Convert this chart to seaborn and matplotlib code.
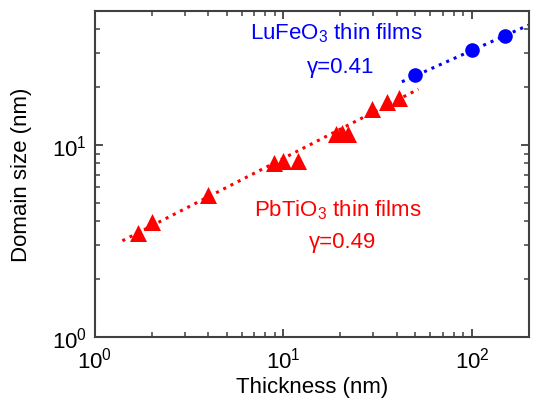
import numpy as np
import pandas as pd
import matplotlib
matplotlib.use("Agg")
import matplotlib.pyplot as plt
import seaborn as sns

# ==============================
# DATI
# ==============================
pto_thickness = [1.7, 2.0, 4.0, 8.9, 10.0, 12.0, 19.0, 20.5, 22.0, 29.5, 35.5, 41.0]
pto_domain = [3.47, 3.97, 5.47, 8.0, 8.2, 8.2, 11.4, 11.5, 11.4, 15.4, 16.7, 17.5]

lfo_thickness = [50, 100, 150]
lfo_domain = [23.1, 31.2, 37.0]

# fit lines (end points)
pto_fit_x = [1.4, 52]
pto_fit_y = [3.16, 19.5]
lfo_fit_x = [42.5, 199]
lfo_fit_y = [21.3, 42.0]

pto_label = "PbTiO$_3$ thin films"
lfo_label = "LuFeO$_3$ thin films"
pto_gamma = "γ=0.49"
lfo_gamma = "γ=0.41"

# ==============================
# STILE
# ==============================
sns.set_style("ticks")
plt.rcParams["font.family"] = ["Liberation Sans", "DejaVu Sans"]
plt.rcParams["mathtext.fontset"] = "custom"
plt.rcParams["mathtext.rm"] = "Liberation Sans"
plt.rcParams["mathtext.it"] = "Liberation Sans:italic"
plt.rcParams["mathtext.default"] = "regular"
plt.rcParams["text.color"] = "black"
plt.rcParams["axes.labelcolor"] = "black"

fig = plt.figure(figsize=(5.39, 4.02), dpi=100)
ax = fig.add_axes([0.176, 0.160, 0.805, 0.811])

# ==============================
# LINEE DI FIT
# ==============================
sns.lineplot(x=pto_fit_x, y=pto_fit_y, ax=ax, color="red",
             linestyle=":", linewidth=2.2, zorder=2)
sns.lineplot(x=lfo_fit_x, y=lfo_fit_y, ax=ax, color="blue",
             linestyle=":", linewidth=2.2, zorder=2)

# ==============================
# PUNTI
# ==============================
sns.scatterplot(x=pto_thickness, y=pto_domain, ax=ax, marker="^",
                color="red", s=150, edgecolor="red", linewidth=0, zorder=3)
sns.scatterplot(x=lfo_thickness, y=lfo_domain, ax=ax, marker="o",
                color="blue", s=110, edgecolor="blue", linewidth=0, zorder=3)

ax.set_xscale("log")
ax.set_yscale("log")
ax.set_xlim(1, 200)
ax.set_ylim(1, 50)

# ==============================
# TESTI
# ==============================
ax.annotate(lfo_label, xy=(336 / 539, 1 - 33 / 402), xycoords="figure fraction",
            color="blue", fontsize=16, ha="center", va="center")
ax.annotate(lfo_gamma, xy=(341 / 539, 1 - 67 / 402), xycoords="figure fraction",
            color="blue", fontsize=16, ha="center", va="center")
ax.annotate(pto_label, xy=(338 / 539, 1 - 210 / 402), xycoords="figure fraction",
            color="red", fontsize=16, ha="center", va="center")
ax.annotate(pto_gamma, xy=(343 / 539, 1 - 243 / 402), xycoords="figure fraction",
            color="red", fontsize=16, ha="center", va="center")

ax.set_xlabel("Thickness (nm)", fontsize=16, labelpad=3)
ax.set_ylabel("Domain size (nm)", fontsize=16, labelpad=14)

ax.tick_params(which="both", direction="in", top=True, right=True,
               labelsize=16, color="#404040", labelcolor="black")
ax.tick_params(axis="x", which="major", pad=7)
ax.tick_params(axis="y", which="major", pad=6)
ax.tick_params(which="major", length=6, width=1.3)
ax.tick_params(which="minor", length=3.5, width=1.1)
for sp in ax.spines.values():
    sp.set_linewidth(1.5)
    sp.set_color("#404040")

plt.savefig("out.png", dpi=100)
